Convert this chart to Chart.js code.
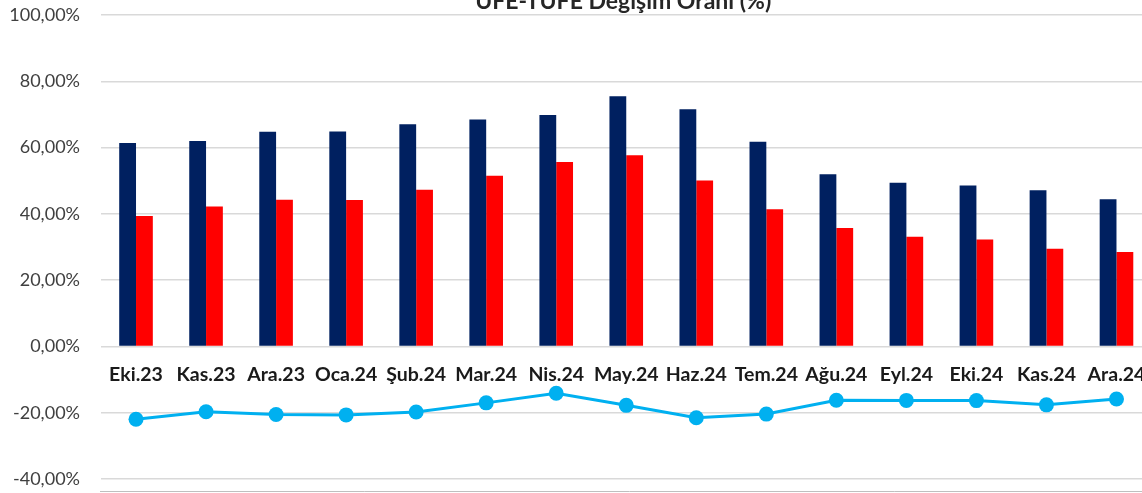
<!DOCTYPE html>
<html>
<head>
<meta charset="utf-8">
<script src="https://cdn.jsdelivr.net/npm/chart.js@4.4.1/dist/chart.umd.min.js"></script>
<style>
html,body{margin:0;padding:0;background:#fff;overflow:hidden;width:1142px;height:493px;}
#wrap{position:absolute;left:0;top:0;width:1159px;height:493px;}
</style>
</head>
<body>
<div id="wrap"><canvas id="c" width="1159" height="493"></canvas></div>
<script>
const chartTitle = 'ÜFE-TÜFE Değişim Oranı (%)';
const categories = ['Eki.23','Kas.23','Ara.23','Oca.24','Şub.24','Mar.24','Nis.24','May.24','Haz.24','Tem.24','Ağu.24','Eyl.24','Eki.24','Kas.24','Ara.24'];
const tufe = [61.36,61.98,64.77,64.86,67.07,68.50,69.80,75.45,71.60,61.78,51.97,49.38,48.58,47.09,44.38];
const ufe  = [39.39,42.25,44.22,44.20,47.29,51.47,55.66,57.68,50.09,41.37,35.75,33.09,32.24,29.47,28.52];
const fark = [-21.97,-19.73,-20.55,-20.66,-19.78,-17.03,-14.14,-17.77,-21.51,-20.41,-16.22,-16.29,-16.34,-17.62,-15.86];
const yTicks = [-40,-20,0,20,40,60,80,100];

const fmt = v => v.toFixed(2).replace('.', ',') + '%';

const titlePlugin = {
  id: 'topTitle',
  afterDraw(chart) {
    const ctx = chart.ctx, a = chart.chartArea;
    ctx.save();
    ctx.font = 'bold 23px Lato, "Open Sans", sans-serif';
    ctx.fillStyle = '#262626';
    ctx.textAlign = 'center';
    ctx.textBaseline = 'alphabetic';
    ctx.fillText(chartTitle, (a.left + a.right) / 2 - 3, 9);
    ctx.strokeStyle = '#BFBFBF';
    ctx.lineWidth = 1;
    ctx.beginPath();
    ctx.moveTo(a.left - 1, 491.5);
    ctx.lineTo(chart.width, 491.5);
    ctx.stroke();
    ctx.restore();
  }
};

new Chart(document.getElementById('c'), {
  data: {
    labels: categories,
    datasets: [
      { type: 'line', label: 'Fark', data: fark, borderColor: '#00B0F0', backgroundColor: '#00B0F0',
        borderWidth: 3, pointRadius: 7.5, pointHoverRadius: 7.5, pointBackgroundColor: '#00B0F0',
        pointBorderWidth: 0, tension: 0, order: 0 },
      { type: 'bar', label: 'TÜFE', data: tufe, backgroundColor: '#002060',
        barPercentage: 1, categoryPercentage: 0.48, order: 1 },
      { type: 'bar', label: 'ÜFE', data: ufe, backgroundColor: '#FF0000',
        barPercentage: 1, categoryPercentage: 0.48, order: 1 }
    ]
  },
  options: {
    responsive: false,
    animation: false,
    layout: { padding: { top: 15, bottom: 14, left: 0, right: 1 } },
    plugins: { legend: { display: false }, title: { display: false }, tooltip: { enabled: false } },
    scales: {
      x: {
        position: { y: 0 },
        afterFit(s) { s.paddingLeft = 0; s.paddingRight = 0; s.paddingTop = 0; s.paddingBottom = 0; },
        grid: { display: false, drawTicks: false },
        border: { display: false },
        ticks: { color: '#1a1a1a', padding: 17, maxRotation: 0, autoSkip: false,
          font: { family: 'Lato, "Open Sans", sans-serif', size: 19.5, weight: 'bold' } }
      },
      y: {
        min: -40, max: 100,
        afterFit(s) { s.width = 101; s.paddingTop = 0; s.paddingBottom = 0; },
        afterBuildTicks(s) { s.ticks = yTicks.map(v => ({ value: v })); },
        grid: { color: '#D9D9D9', lineWidth: 1.5, drawTicks: false },
        border: { display: false },
        ticks: { color: '#404040', padding: 21, callback: v => fmt(v),
          font: { family: 'Lato, "Open Sans", sans-serif', size: 18 } }
      }
    }
  },
  plugins: [titlePlugin]
});
</script>
</body>
</html>
